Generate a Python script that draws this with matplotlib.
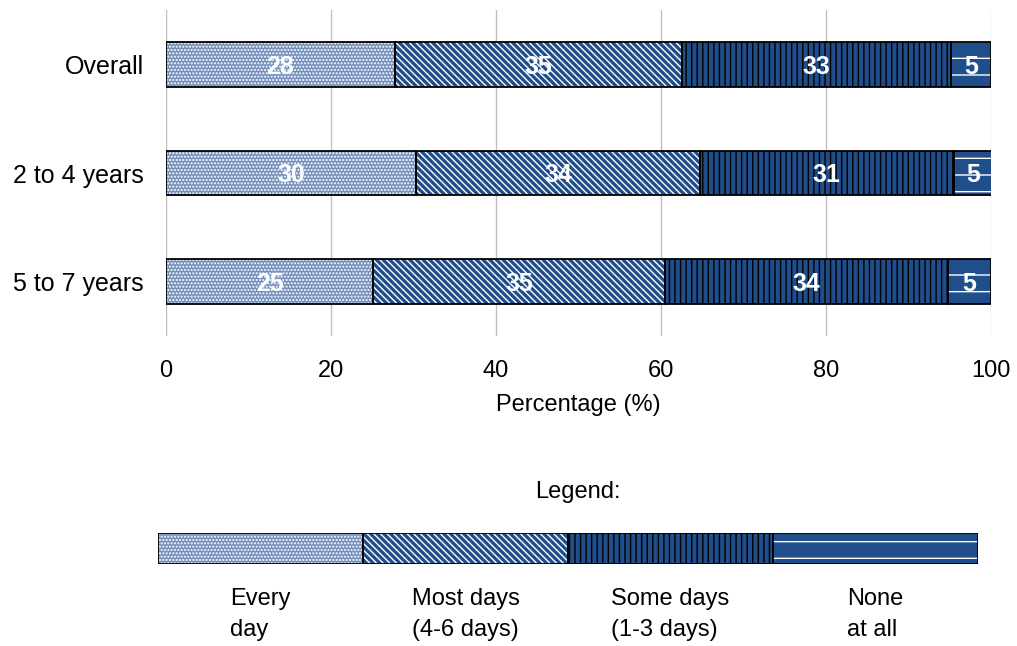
import numpy as np
import matplotlib.pyplot as plt
from matplotlib.patches import Rectangle

plt.rcParams['font.family'] = ['Liberation Sans', 'DejaVu Sans']
plt.rcParams['hatch.linewidth'] = 1.0

# 数据
groups = ['Overall', '2 to 4 years', '5 to 7 years']
every_day = [27.7, 30.3, 25.1]
most_days = [34.8, 34.4, 35.4]
some_days = [32.6, 30.8, 34.3]
none_at_all = [4.9, 4.6, 5.2]
legend_labels = ['Every\nday', 'Most days\n(4-6 days)', 'Some days\n(1-3 days)', 'None\nat all']

# 每类的填充样式 (底色, 花纹, 花纹颜色)
styles = [
    ('#7590bd', '.....', 'white'),
    ('#1f4e8a', '\\\\\\\\\\', 'white'),
    ('#1f4e8a', '|||', 'black'),
    ('#1f4e8a', '-', 'white'),
]

fig = plt.figure(figsize=(10.17, 6.46), dpi=100)
ax = fig.add_axes([166 / 1017, 1 - 336 / 646, 825 / 1017, 326 / 646])

y = np.arange(len(groups))
left = np.zeros(len(groups))
for vals, (fc, hatch, hc) in zip([every_day, most_days, some_days, none_at_all], styles):
    vals = np.array(vals)
    bars = ax.barh(y, vals, left=left, height=0.41, color=fc, hatch=hatch,
                   edgecolor=hc, linewidth=0, zorder=2)
    # 黑色外框
    ax.barh(y, vals, left=left, height=0.41, fill=False, edgecolor='black',
            linewidth=1.3, zorder=3)
    for b, v in zip(bars, vals):
        ax.text(b.get_x() + b.get_width() / 2, b.get_y() + b.get_height() / 2,
                f'{v:.0f}', ha='center', va='center_baseline', color='white',
                fontsize=18, fontweight='bold', zorder=4)
    left += vals

ax.set_xlim(0, 100)
ax.set_ylim(2.5, -0.5)
ax.set_yticks(y)
ax.set_yticklabels(groups, fontsize=18)
ax.set_xticks(range(0, 101, 20))
ax.tick_params(axis='x', labelsize=17, length=0, pad=17)
ax.tick_params(axis='y', length=0, pad=16)
ax.xaxis.grid(True, color='#c0c0c0', linewidth=1, zorder=0)
ax.set_axisbelow(True)
for s in ax.spines.values():
    s.set_visible(False)
ax.set_xlabel('Percentage (%)', fontsize=17, labelpad=9)

# 图例条
lax = fig.add_axes([158 / 1017, 1 - 564 / 646, 820 / 1017, 31 / 646])
lax.set_xlim(0, 4)
lax.set_ylim(0, 1)
lax.axis('off')
for i, ((fc, hatch, hc), lab) in enumerate(zip(styles, legend_labels)):
    lax.add_patch(Rectangle((i, 0), 1, 1, facecolor=fc, hatch=hatch,
                            edgecolor=hc, linewidth=0))
    lax.add_patch(Rectangle((i, 0), 1, 1, fill=False, edgecolor='black',
                            linewidth=1.3))
    fig.text((158 + 820 * (i + 0.5) / 4) / 1017, 1 - 588 / 646, lab,
             ha='center', va='top', multialignment='left', fontsize=17,
             linespacing=1.55)

fig.text(578 / 1017, 1 - 492 / 646, 'Legend:', ha='center', va='center', fontsize=17)

fig.savefig('out.png', dpi=100)
